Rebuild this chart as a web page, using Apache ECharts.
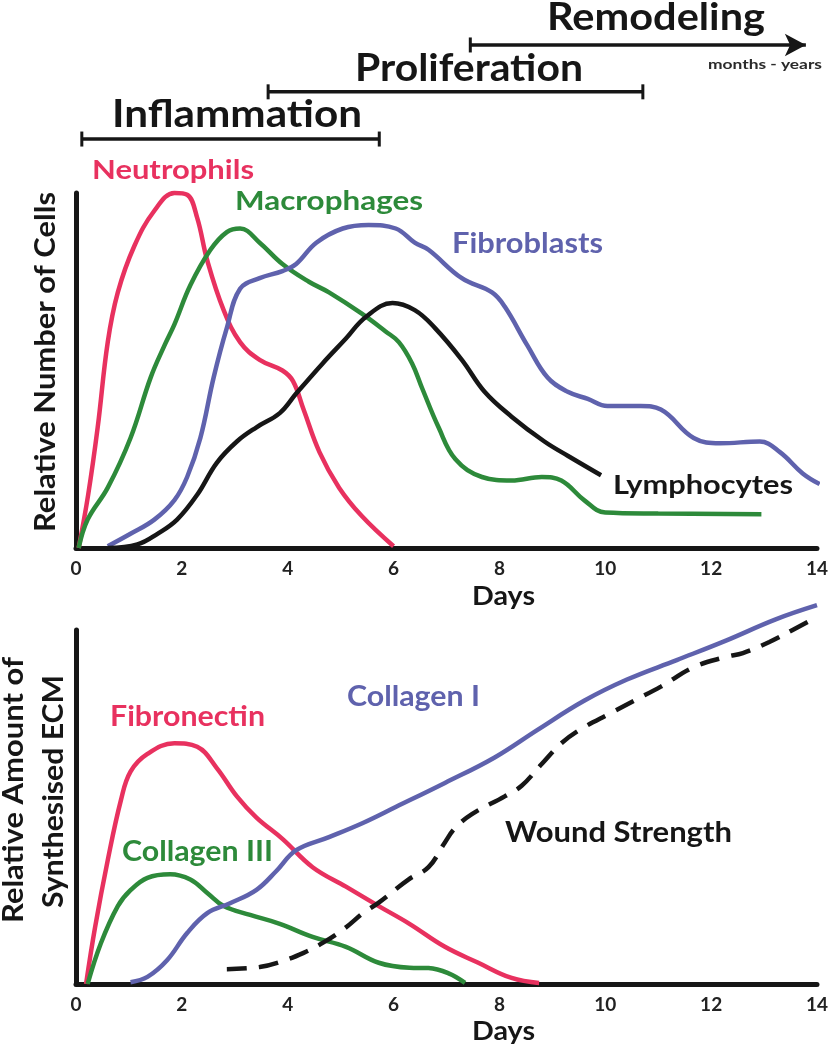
<!DOCTYPE html>
<html>
<head>
<meta charset="utf-8">
<script src="https://cdn.jsdelivr.net/npm/echarts@6/dist/echarts.min.js"></script>
<style>
html,body{margin:0;padding:0;background:#fff;}
#chart{width:831px;height:1050px;}
</style>
</head>
<body>
<div id="chart"></div>
<script>
// ---------- data (days, relative value) ----------
const xTicks = [0, 2, 4, 6, 8, 10, 12, 14];

const neutrophils = [[0.05,0],[0.23,15],[0.41,34],[0.6,58],[0.79,72],[1.1,85],[1.48,95],[1.86,100],[2.1,99.5],[2.29,93],[2.48,81],[2.79,67],[3.1,58],[3.47,53],[3.9,50],[4.1,47],[4.3,39],[4.6,27],[4.97,17],[5.4,9],[6.0,0.5]];
const macrophages = [[0.05,0],[0.22,8],[0.6,17],[1.03,31],[1.41,48],[1.67,57],[1.86,63],[2.16,74],[2.54,84],[2.85,89],[3.1,90],[3.47,86],[3.9,80],[4.4,75],[4.78,72],[5.4,66],[5.85,61],[6.1,58],[6.35,52],[6.54,45],[6.85,34],[7.17,25],[7.67,20],[8.23,19],[8.8,20],[9.17,19],[9.6,13.5],[10.0,10],[11.0,9.7],[12.95,9.5]];
const fibroblasts = [[0.6,0.5],[1.03,4],[1.48,8],[1.86,13.5],[2.1,20],[2.35,31],[2.6,48],[2.85,62],[3.1,73],[3.47,76],[3.9,78],[4.16,80],[4.54,86],[5.04,90],[5.53,91],[6.04,90],[6.4,86],[6.66,84],[7.29,76],[7.86,72],[8.1,68],[8.53,57],[8.91,48],[9.29,44],[9.67,42],[10.04,40],[10.67,40],[11.05,39],[11.67,31],[12.17,29.5],[12.92,30],[13.3,27],[13.73,21],[14.05,18]];
const lymphocytes = [[0.6,0],[1.16,1],[1.54,4],[1.91,8],[2.29,15],[2.66,24],[3.04,30],[3.41,34],[3.85,38],[4.16,43.5],[4.66,52],[5.1,59],[5.47,65],[5.98,69],[6.4,67],[6.78,62],[7.29,53],[7.72,44],[8.23,37],[8.85,30],[9.29,26],[9.92,20.5]];

const fibronectin = [[0.19,0],[0.36,16],[0.6,35],[0.85,52],[1.03,60],[1.35,65],[1.86,68],[2.29,67],[2.66,61],[3.04,53],[3.41,47],[3.9,41],[4.47,33],[5.1,27.5],[5.72,22],[6.3,17],[6.97,10.5],[7.6,6],[8.23,1.7],[8.75,0.3]];
const collagen3 = [[0.22,0],[0.47,11.5],[0.79,22],[1.03,26.5],[1.35,30],[1.78,31],[2.16,29.5],[2.48,25.7],[2.79,22],[3.29,19.5],[3.85,17],[4.47,13.3],[5.1,10.5],[5.72,6],[6.3,4.6],[6.66,4.5],[7.04,3],[7.35,0.3]];
const collagen1 = [[1.03,0.5],[1.35,2],[1.72,6.7],[2.1,14.4],[2.48,20],[2.91,22.8],[3.41,26.6],[3.79,32],[4.16,37.8],[4.78,41.5],[5.42,45.5],[6.04,50],[6.97,56.8],[7.91,64],[8.72,71.8],[9.6,80],[10.41,86],[11.35,91.5],[12.28,97],[13.22,103],[14.0,107]];
const woundStrength = [[2.85,4.2],[3.47,4.8],[3.85,6.2],[4.3,8.8],[4.66,11.6],[5.1,16],[5.42,20],[5.72,23],[6.28,29.5],[6.66,33],[6.97,40],[7.16,44],[7.48,48],[8.1,53],[8.42,56],[8.79,62],[9.17,68],[9.54,72],[10.1,76.5],[10.54,80],[11.05,84],[11.67,89.5],[12.28,92.4],[12.6,93.5],[13.1,96.6],[13.54,100],[14.0,103.7]];

// wound-healing phases (days) drawn above the top chart
const phaseNames = ['Inflammation', 'Proliferation', 'Remodeling'];
const phaseStart = [0.11, 3.63, 7.45];
const phaseEnd = [5.73, 10.71, 13.79];
const phaseLevel = [115.2, 128.5, 141.7];

// ---------- styles ----------
const RED = '#e8315f', GREEN = '#2d8a3a', BLUE = '#5f62ad', BLACK = '#161616';
const FONT = 'Lato';

const measureCtx = document.createElement('canvas').getContext('2d');
function label(text, a, b, base, cap, color, vertical) {
  const fs = cap / 0.7165;
  measureCtx.font = 'bold ' + fs + 'px ' + FONT;
  const w = measureCtx.measureText(text).width;
  const sx = Math.abs(b - a) / w;
  const off = 0.387 * fs;
  const el = {
    type: 'text',
    scaleX: sx,
    style: {
      text: text, fill: color, fontSize: fs, fontWeight: 'bold', fontFamily: FONT,
      textAlign: 'center', textVerticalAlign: 'middle', align: 'center', verticalAlign: 'middle'
    },
    z: 100
  };
  if (vertical) {
    el.x = base - off; el.y = (a + b) / 2; el.rotation = Math.PI / 2;
  } else {
    el.x = (a + b) / 2; el.y = base - off;
  }
  return el;
}

const graphics = [
  label('Inflammation', 112, 362, 130, 28, BLACK),
  label('Proliferation', 355, 583, 83, 27, BLACK),
  label('Remodeling', 547, 765, 32, 27, BLACK),
  label('months - years', 708, 822, 70, 9.5, '#2a2a2a'),
  label('Neutrophils', 92, 254, 181, 18.5, RED),
  label('Macrophages', 235, 423, 212, 19, GREEN),
  label('Fibroblasts', 452, 603, 255, 20, BLUE),
  label('Lymphocytes', 613, 793, 496, 19, BLACK),
  label('Fibronectin', 110, 265, 728, 20, RED),
  label('Collagen III', 122, 273, 863, 20, GREEN),
  label('Collagen I', 347, 480, 708, 20, BLUE),
  label('Wound Strength', 505, 732, 844, 20.5, BLACK),
  label('Days', 472, 535, 607, 19, BLACK),
  label('Days', 472, 535, 1042, 19, BLACK),
  label('Relative Number of Cells', 192, 532, 57, 20, BLACK, true),
  label('Relative Amount of', 657, 923, 25, 20, BLACK, true),
  label('Synthesised ECM', 675, 908, 65, 21, BLACK, true)
];

function xAxisDef(idx) {
  return {
    type: 'value', gridIndex: idx, min: 0, max: 14, interval: 2,
    axisLine: { show: true, onZero: false, lineStyle: { color: BLACK, width: 5 } },
    axisTick: { show: false },
    splitLine: { show: false },
    axisLabel: {
      show: true, margin: 11, color: '#222', fontSize: 19, fontWeight: 'bold', fontFamily: FONT,
      formatter: function (v) { return xTicks.indexOf(v) >= 0 ? String(v) : ''; }
    }
  };
}
function yAxisDef(idx) {
  return {
    type: 'value', gridIndex: idx, min: 0, max: 100,
    axisLine: { show: true, lineStyle: { color: BLACK, width: 5 } },
    axisTick: { show: false }, axisLabel: { show: false }, splitLine: { show: false }
  };
}
function curve(name, data, color, idx, dashed) {
  return {
    name: name, type: 'line', xAxisIndex: idx, yAxisIndex: idx, data: data,
    smooth: 0.4, showSymbol: false, symbol: 'none', clip: false, silent: true,
    lineStyle: { color: color, width: 4.5, type: dashed ? [20, 12] : 'solid', cap: 'butt' },
    z: 5
  };
}

const phaseSeries = phaseNames.map(function (n, i) {
  const last = i === phaseNames.length - 1;
  return {
    name: n, type: 'line', xAxisIndex: 0, yAxisIndex: 0, clip: false, silent: true,
    showSymbol: true, showAllSymbol: true,
    lineStyle: { color: BLACK, width: 3.5 },
    itemStyle: { color: BLACK, borderWidth: 0 },
    data: [
      { value: [phaseStart[i], phaseLevel[i]], symbol: 'rect', symbolSize: [3, 15] },
      last ? { value: [phaseEnd[i], phaseLevel[i]], symbol: 'arrow', symbolSize: [17, 21], symbolRotate: -90 }
           : { value: [phaseEnd[i], phaseLevel[i]], symbol: 'rect', symbolSize: [3, 15] }
    ],
    z: 6
  };
});

const option = {
  backgroundColor: '#ffffff',
  animation: false,
  grid: [
    { left: 76, right: 7, top: 193, height: 355 },
    { left: 76, right: 7, top: 630, height: 354 }
  ],
  xAxis: [xAxisDef(0), xAxisDef(1)],
  yAxis: [yAxisDef(0), yAxisDef(1)],
  series: [
    curve('Neutrophils', neutrophils, RED, 0),
    curve('Macrophages', macrophages, GREEN, 0),
    curve('Fibroblasts', fibroblasts, BLUE, 0),
    curve('Lymphocytes', lymphocytes, BLACK, 0),
    curve('Fibronectin', fibronectin, RED, 1),
    curve('Collagen III', collagen3, GREEN, 1),
    curve('Collagen I', collagen1, BLUE, 1),
    curve('Wound Strength', woundStrength, BLACK, 1, true)
  ].concat(phaseSeries),
  graphic: graphics
};

const chart = echarts.init(document.getElementById('chart'), null, { renderer: 'canvas' });
chart.setOption(option);
</script>
</body>
</html>
